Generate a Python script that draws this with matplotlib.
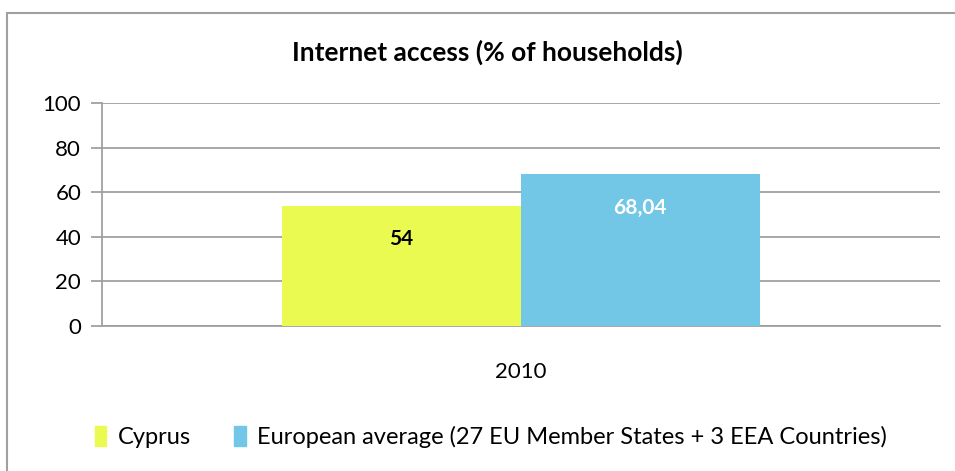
import matplotlib.pyplot as plt
from matplotlib.patches import Rectangle, Patch

plt.rcParams['font.family'] = ['Lato', 'DejaVu Sans']

years = ['2010']
series = ['Cyprus', 'European average (27 EU Member States + 3 EEA Countries)']
values = [54, 68.04]
labels = ['54', '68,04']
colors = ['#ebfa50', '#72c6e6']
label_colors = ['black', 'white']

fig = plt.figure(figsize=(9.55, 4.71), dpi=100)
ax = fig.add_axes([0.1068, 0.3079, 0.8772, 0.4734])

# outer chart frame
fig.patches.append(Rectangle((7 / 955, -0.05), 1.0, 1 - 13 / 471 + 0.05,
                             transform=fig.transFigure, fill=False,
                             edgecolor='#a0a0a0', linewidth=1.5))

width = 0.285
for i, (v, c) in enumerate(zip(values, colors)):
    x = (i - 0.5) * width
    ax.bar(x, v, width, color=c, zorder=3)
    ax.text(x, v - 15, labels[i], ha='center', va='center',
            fontsize=15, fontweight='bold', color=label_colors[i], zorder=4)

ax.set_xlim(-0.5, 0.5)
ax.set_ylim(0, 100)
ax.set_yticks(range(0, 101, 20))
ax.set_xticks([0])
ax.set_xticklabels(years)
ax.yaxis.grid(True, color='#a0a0a0', linewidth=1.3, zorder=0)
for s in ['top', 'right']:
    ax.spines[s].set_visible(False)
for s in ['left', 'bottom']:
    ax.spines[s].set_color('#a0a0a0')
    ax.spines[s].set_linewidth(1.3)
ax.tick_params(axis='y', length=8, width=1.3, color='#a0a0a0', labelsize=16, pad=7)
ax.tick_params(axis='x', length=0, labelsize=16, pad=26)

fig.text(0.51, 1 - 52 / 471, 'Internet access (% of households)', ha='center', va='center',
         fontsize=19, fontweight='bold')

handles = [Patch(color=c) for c in colors]
fig.legend(handles, series, loc='center', bbox_to_anchor=(0.514, 0.072), ncol=2,
           frameon=False, fontsize=17, handlelength=0.5, handleheight=0.9,
           handletextpad=0.5, columnspacing=1.8)

plt.savefig('out.png')
